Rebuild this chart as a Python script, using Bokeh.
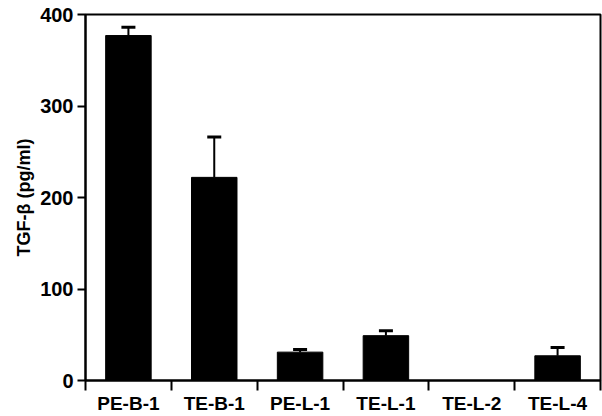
from bokeh.plotting import figure
from bokeh.models import ColumnDataSource, FixedTicker, Whisker, TeeHead, Range1d
from bokeh.embed import file_html
from bokeh.resources import INLINE

categories = ["PE-B-1", "TE-B-1", "PE-L-1", "TE-L-1", "TE-L-2", "TE-L-4"]
values = [377, 222, 31, 49, 0, 27]
errors = [9, 44, 3, 5.5, 0, 9]
y_ticks = [0, 100, 200, 300, 400]

FONT = "Liberation Sans"

xs = [i + 0.5 for i in range(len(categories))]
src = ColumnDataSource(dict(x=xs, top=values))

err_idx = [i for i, e in enumerate(errors) if e > 0]
esrc = ColumnDataSource(dict(
    x=[xs[i] for i in err_idx],
    upper=[values[i] + errors[i] for i in err_idx],
    lower=[values[i] for i in err_idx],
))

p = figure(width=602, height=416, output_backend="svg", toolbar_location=None,
           x_range=Range1d(0, len(categories)), y_range=Range1d(0, 400))
p.min_border_left = 85
p.min_border_right = 2
p.min_border_top = 14
p.min_border_bottom = 35
p.background_fill_color = "white"
p.border_fill_color = "white"
p.grid.visible = False
p.outline_line_color = "black"
p.outline_line_width = 2

p.vbar(x="x", top="top", bottom=0, width=0.53, source=src,
       fill_color="black", line_color="black")

w = Whisker(base="x", upper="upper", lower="lower", source=esrc,
            line_color="black", line_width=2,
            upper_head=TeeHead(size=14, line_color="black", line_width=3),
            lower_head=None)
p.add_layout(w)

# x axis
xa = p.xaxis[0]
xa.ticker = FixedTicker(ticks=xs, minor_ticks=list(range(len(categories) + 1)))
xa.major_label_overrides = {x: c for x, c in zip(xs, categories)}
xa.major_tick_out = 0
xa.major_tick_in = 0
xa.minor_tick_out = 10
xa.minor_tick_in = 0
xa.minor_tick_line_color = "black"
xa.minor_tick_line_width = 2
xa.axis_line_color = "black"
xa.axis_line_width = 2
xa.major_label_standoff = 2
xa.major_label_text_font = FONT
xa.major_label_text_font_style = "bold"
xa.major_label_text_font_size = "19px"
xa.major_label_text_color = "black"

# y axis
ya = p.yaxis[0]
ya.ticker = FixedTicker(ticks=y_ticks)
ya.major_tick_out = 8
ya.major_tick_in = 0
ya.major_tick_line_width = 2
ya.major_tick_line_color = "black"
ya.minor_tick_line_color = None
ya.axis_line_color = "black"
ya.axis_line_width = 2
ya.major_label_standoff = 4
ya.major_label_text_font = FONT
ya.major_label_text_font_style = "bold"
ya.major_label_text_font_size = "20px"
ya.major_label_text_color = "black"
ya.axis_label = "TGF-β (pg/ml)"
ya.axis_label_text_font = FONT
ya.axis_label_text_font_style = "bold"
ya.axis_label_text_font_size = "18px"
ya.axis_label_text_color = "black"
ya.axis_label_standoff = 3

open("out.html", "w").write(file_html(p, INLINE))
